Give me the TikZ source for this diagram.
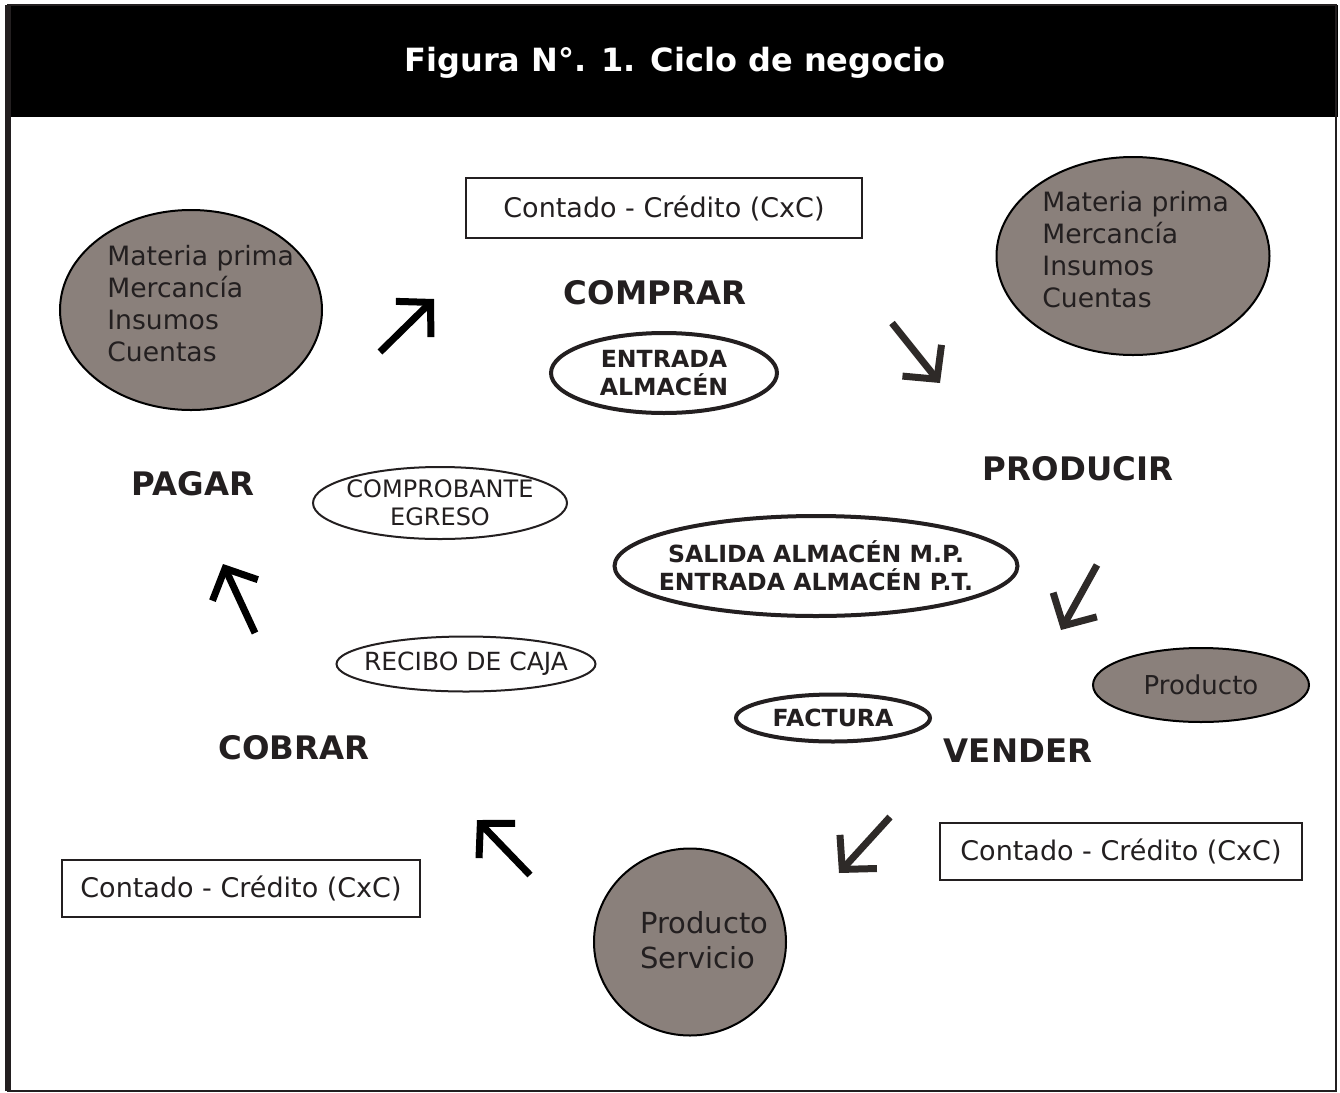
\documentclass[tikz,border=0pt]{standalone}
\usepackage{fontspec}
\setmainfont{DejaVu Sans}
\usepackage{tikz}
\usetikzlibrary{arrows.meta}
\usetikzlibrary{shapes.geometric}
\definecolor{ink}{HTML}{231F20}
\definecolor{blobgray}{HTML}{8A807B}
\definecolor{arrowgray}{HTML}{2E2A28}
\tikzset{blob/.style = {ellipse, draw = black, line width = 1pt, fill = blobgray, text = ink,
                        inner xsep = -8pt, inner ysep = 0,
                        font = \fontsize{13}{16}\selectfont}}
\tikzset{blobtext/.style = {anchor = west, inner sep = 0, align = left, text = ink,
                            font = \fontsize{13.3}{16}\selectfont}}
\tikzset{docbox/.style = {draw = ink, line width = 1pt, text = ink,
                          font = \fontsize{13.5}{16}\selectfont}}
\tikzset{stage/.style = {text = ink, font = \fontsize{16.2}{19}\selectfont\bfseries}}
\tikzset{thindoc/.style = {ellipse, draw = ink, line width = 1pt, text = ink,
                           inner xsep = -8pt, inner ysep = 0, align = center}}
\tikzset{thickdoc/.style = {ellipse, draw = ink, line width = 2pt, text = ink,
                            inner xsep = -8pt, inner ysep = 0, align = center,
                            font = \fontsize{11.8}{14}\selectfont\bfseries}}
\tikzset{flow/.style = {line width = 3.5pt, -{Straight Barb[length = 12pt, width = 25pt]}}}

\begin{document}
\begin{tikzpicture}[x = 0.5pt, y = -0.5pt]
    \useasboundingbox (0, 0) rectangle (1340, 1093);

    \fill [black] (8, 5) rectangle (1338, 117);
    \node [text = white, font = \fontsize{16}{19}\selectfont\bfseries] (title) at (675, 63) {Figura N°. 1. Ciclo de negocio};
    \draw [line width = 1pt, ink] (8, 5) rectangle (1336, 1091);
    \draw [line width = 3pt, ink] (8, 5) -- (8, 1091);

    \node [blob, minimum width = 131pt, minimum height = 100pt] (insumos left) at (191, 310) {};
    \node [blobtext] (insumos left text) at (107, 304) {Materia prima\\Mercancía\\Insumos\\Cuentas};
    \node [blob, minimum width = 136.5pt, minimum height = 99pt] (insumos right) at (1133, 256) {};
    \node [blobtext] (insumos right text) at (1042, 250) {Materia prima\\Mercancía\\Insumos\\Cuentas};
    \node [blob, minimum width = 108pt, minimum height = 37pt] (producto) at (1201, 685) {Producto};
    \node [blob, minimum width = 96pt, minimum height = 93.5pt] (servicio) at (690, 942) {};
    \node [blobtext, font = \fontsize{14.5}{17.5}\selectfont] (servicio text) at (640, 940) {Producto\\Servicio};

    \node [docbox, minimum width = 198pt, minimum height = 30pt] (pago compra) at (664, 208) {Contado - Crédito (CxC)};
    \node [docbox, minimum width = 181pt, minimum height = 28.5pt] (pago venta) at (1121, 851) {Contado - Crédito (CxC)};
    \node [docbox, minimum width = 179pt, minimum height = 28.5pt] (pago cobro) at (241, 888) {Contado - Crédito (CxC)};

    \node [stage] (comprar) at (655, 293) {COMPRAR};
    \node [stage] (producir) at (1078, 469) {PRODUCIR};
    \node [stage] (vender) at (1018, 751) {VENDER};
    \node [stage] (cobrar) at (294, 748) {COBRAR};
    \node [stage] (pagar) at (193, 484) {PAGAR};

    \node [thickdoc, minimum width = 113pt, minimum height = 40pt] (entrada) at (664, 373) {ENTRADA\\ALMACÉN};
    \node [thickdoc, minimum width = 201.5pt, minimum height = 50pt] (salida) at (816, 566) {SALIDA ALMACÉN M.P.\\ENTRADA ALMACÉN P.T.};
    \node [thickdoc, minimum width = 97pt, minimum height = 23.5pt] (factura) at (833, 718) {FACTURA};
    \node [thindoc, minimum width = 127pt, minimum height = 36pt, font = \fontsize{12}{14}\selectfont] (egreso) at (440, 503) {COMPROBANTE\\EGRESO};
    \node [thindoc, minimum width = 129.5pt, minimum height = 27.5pt, font = \fontsize{12.5}{15}\selectfont] (recibo) at (466, 664) {RECIBO DE CAJA};

    \coordinate (buy from) at (380, 352);
    \coordinate (buy to) at (434, 299);
    \coordinate (make from) at (892, 323);
    \coordinate (make to) at (940, 383);
    \coordinate (sell from) at (1097, 565);
    \coordinate (sell to) at (1061, 630);
    \coordinate (ship from) at (890, 817);
    \coordinate (ship to) at (839, 873);
    \coordinate (collect from) at (530, 875);
    \coordinate (collect to) at (477, 820);
    \coordinate (pay from) at (255, 633);
    \coordinate (pay to) at (223, 564);

    \draw [flow, black] (buy from) -- (buy to);
    \draw [flow, arrowgray] (make from) -- (make to);
    \draw [flow, arrowgray] (sell from) -- (sell to);
    \draw [flow, arrowgray] (ship from) -- (ship to);
    \draw [flow, black] (collect from) -- (collect to);
    \draw [flow, black] (pay from) -- (pay to);
\end{tikzpicture}
\end{document}
